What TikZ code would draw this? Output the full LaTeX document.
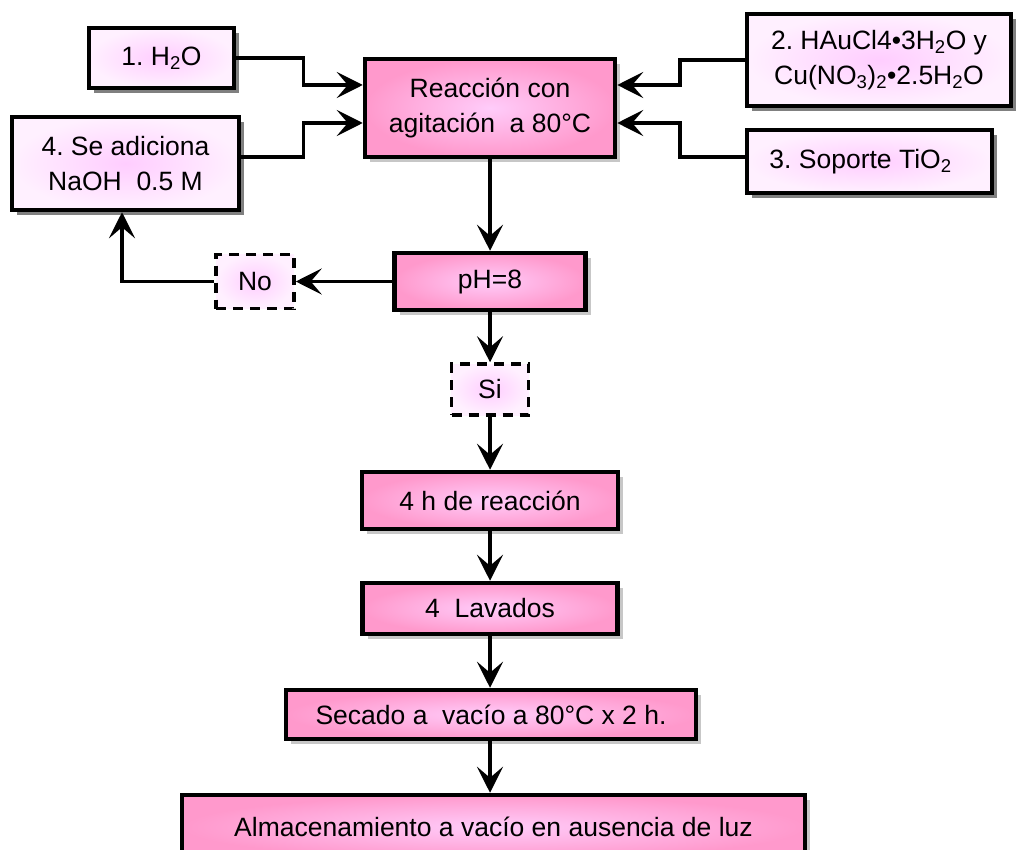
\documentclass[tikz,border=0pt]{standalone}
\usepackage{fontspec}
\setmainfont{Liberation Sans}
\usetikzlibrary{arrows.meta,shadows}
\definecolor{mainout}{RGB}{255,153,204}
\definecolor{mainin}{RGB}{255,204,250}
\definecolor{inout}{RGB}{255,240,255}
\definecolor{inin}{RGB}{255,205,255}
\frenchspacing
\begin{document}
\begin{tikzpicture}[x=1pt,y=-1pt,
  base/.style={rectangle, inner sep=0pt, align=center, font=\fontsize{26.5pt}{34.5pt}\selectfont},
  mainbox/.style={base, draw=black, line width=4.5pt, inner color=mainin, outer color=mainout,
    drop shadow={shadow xshift=5pt,shadow yshift=-5pt,fill=black!22,opacity=1}},
  inbox/.style={base, draw=black, line width=4.5pt, inner color=inin, outer color=inout,
    drop shadow={shadow xshift=5pt,shadow yshift=-5pt,fill=black!50,opacity=1}},
  dbox/.style={base, draw=black, line width=3.5pt, dash pattern=on 10pt off 7pt, inner color=inin, outer color=inout},
  conn/.style={line width=3.5pt, -{Stealth[length=26pt,width=26pt,inset=11pt]}},
]
\useasboundingbox (0,0) rectangle (1016,850);

\node[inbox, minimum width=145pt, minimum height=60pt] (h2o) at (161.5,58) {1. H\textsubscript{2}O};
\node[inbox, minimum width=227pt, minimum height=93pt] (naoh) at (125.5,163.5) {4. Se adiciona\\NaOH\ \ 0.5 M};
\node[mainbox, minimum width=250pt, minimum height=98pt] (main) at (490,108) {Reacción con\\agitación\ \ a 80°C};
\node[inbox, minimum width=264pt, minimum height=92pt] (hau) at (879,60) {2. HAuCl4•3H\textsubscript{2}O y\\Cu(NO\textsubscript{3})\textsubscript{2}•2.5H\textsubscript{2}O};
\node[inbox, minimum width=245pt, minimum height=63pt] (tio2) at (869.5,161.5) {3. Soporte TiO\textsubscript{2}\hspace*{18pt}};
\node[mainbox, minimum width=191pt, minimum height=57pt] (ph) at (490,281.5) {pH=8};
\node[dbox, minimum width=78pt, minimum height=54pt] (no) at (255,281.5) {No};
\node[dbox, minimum width=77pt, minimum height=51pt] (si) at (490,389.5) {Si};
\node[mainbox, minimum width=256pt, minimum height=57pt] (r4h) at (490,500.5) {4 h de reacción};
\node[mainbox, minimum width=255pt, minimum height=51pt] (lav) at (490,608.5) {4\ \ Lavados};
\node[mainbox, minimum width=410pt, minimum height=49pt] (sec) at (491,714.5) {Secado a\ \ vacío a 80°C x 2 h.};
\node[mainbox, minimum width=623pt, minimum height=64pt] (alm) at (493.5,827) {Almacenamiento a vacío en ausencia de luz};

\draw[conn] (h2o.east) -- ++(67,0) |- ([yshift=23pt]main.west);
\draw[conn] ([yshift=6.5pt]naoh.east) -- ++(62,0) |- ([yshift=-15pt]main.west);
\draw[conn] (hau.west) -- ++(-65,0) |- ([yshift=23pt]main.east);
\draw[conn] ([yshift=4.5pt]tio2.west) -- ++(-65,0) |- ([yshift=-15pt]main.east);
\draw[conn] (main.south) -- (ph.north);
\draw[conn] (ph.west) -- (no.east);
\draw[conn] (no.west) -| ([xshift=-3.5pt]naoh.south);
\draw[conn] (ph.south) -- (si.north);
\draw[conn] (si.south) -- (r4h.north);
\draw[conn] (r4h.south) -- (lav.north);
\draw[conn] (lav.south) -- (lav.south |- sec.north);
\draw[conn] (lav.south |- sec.south) -- (lav.south |- alm.north);
\end{tikzpicture}
\end{document}
